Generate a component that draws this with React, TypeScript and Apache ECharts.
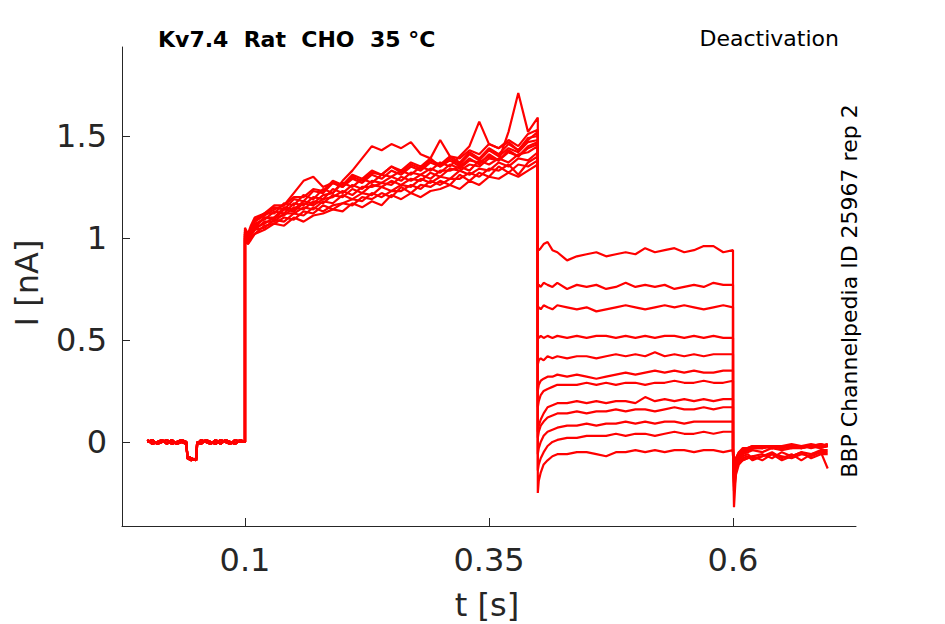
import React, { useEffect, useRef } from "react";
import * as echarts from "echarts";

// ---- time bases (s) ----
const baseT = [0.000,0.005,0.010,0.015,0.020,0.025,0.030,0.035,0.040,0.041,0.045,0.050,0.051,0.055,0.060,0.065,0.070,0.075,0.080,0.085,0.090,0.095,0.100];
const actT = [0.100,0.103,0.106,0.11,0.12,0.13,0.14,0.15,0.16,0.17,0.18,0.19,0.20,0.21,0.22,0.23,0.24,0.25,0.26,0.27,0.28,0.29,0.30,0.31,0.32,0.33,0.34,0.35,0.36,0.37,0.38,0.39,0.40];
const deT = [0.400,0.401,0.403,0.406,0.410,0.415,0.420,0.43,0.44,0.45,0.46,0.47,0.48,0.49,0.50,0.51,0.52,0.53,0.54,0.55,0.56,0.57,0.58,0.59,0.60];
const tailT = [0.600,0.601,0.603,0.606,0.610,0.615,0.620,0.630,0.640,0.650,0.660,0.670,0.680,0.690,0.697];

// ---- baseline (nA) ----
const baseA = [0.00,0.01,-0.01,0.00,0.01,-0.01,0.00,0.01,0.00,-0.08,-0.09,-0.08,0.00,-0.01,0.01,0.00,-0.01,0.01,0.00,-0.01,0.01,0.00,0.00];
const baseB = [0.01,-0.01,0.00,0.01,-0.01,0.01,-0.01,0.00,-0.01,-0.07,-0.08,-0.09,-0.01,0.01,0.00,-0.01,0.01,-0.01,0.01,0.00,-0.01,0.01,0.00];

// ---- activation (nA) ----
const act1 = [1.04,1.01,1.05,1.09,1.12,1.15,1.14,1.19,1.18,1.23,1.22,1.27,1.25,1.30,1.28,1.32,1.31,1.35,1.32,1.36,1.34,1.38,1.36,1.40,1.37,1.42,1.39,1.44,1.41,1.46,1.43,1.49,1.50];
const act2 = [1.00,0.97,1.00,1.02,1.06,1.07,1.10,1.09,1.13,1.12,1.16,1.14,1.17,1.16,1.20,1.19,1.22,1.20,1.25,1.22,1.26,1.25,1.28,1.26,1.31,1.28,1.32,1.30,1.35,1.32,1.36,1.35,1.38];
const act3 = [1.03,1.00,1.04,1.08,1.12,1.12,1.17,1.16,1.21,1.19,1.24,1.22,1.27,1.25,1.29,1.27,1.31,1.30,1.33,1.31,1.35,1.33,1.37,1.35,1.40,1.45,1.57,1.46,1.44,1.47,1.43,1.48,1.52];
const act4 = [0.99,0.97,0.99,1.02,1.04,1.07,1.06,1.10,1.08,1.11,1.12,1.14,1.13,1.17,1.15,1.18,1.16,1.21,1.19,1.22,1.20,1.23,1.24,1.26,1.24,1.28,1.26,1.30,1.29,1.32,1.30,1.33,1.36];
const act5 = [1.02,0.99,1.03,1.06,1.10,1.10,1.15,1.14,1.18,1.17,1.21,1.22,1.28,1.33,1.39,1.45,1.43,1.46,1.44,1.47,1.41,1.39,1.35,1.38,1.35,1.39,1.36,1.41,1.38,1.43,1.40,1.45,1.47];
const act6 = [1.02,1.00,1.03,1.05,1.10,1.09,1.14,1.13,1.17,1.16,1.19,1.20,1.23,1.21,1.25,1.25,1.27,1.26,1.30,1.28,1.31,1.29,1.33,1.33,1.35,1.33,1.38,1.36,1.39,1.37,1.41,1.42,1.45];
const act7 = [1.05,1.02,1.06,1.10,1.12,1.16,1.16,1.20,1.20,1.24,1.23,1.28,1.26,1.31,1.29,1.33,1.31,1.35,1.33,1.37,1.35,1.39,1.48,1.40,1.39,1.43,1.41,1.46,1.44,1.48,1.45,1.51,1.53];
const act8 = [1.01,0.99,1.02,1.05,1.07,1.10,1.11,1.15,1.14,1.18,1.17,1.21,1.20,1.24,1.22,1.26,1.25,1.28,1.26,1.29,1.28,1.32,1.30,1.34,1.33,1.36,1.35,1.39,1.38,1.52,1.71,1.52,1.59];
const act9 = [1.00,0.98,1.01,1.04,1.05,1.09,1.08,1.12,1.11,1.15,1.13,1.16,1.17,1.19,1.18,1.22,1.20,1.23,1.23,1.26,1.24,1.28,1.26,1.29,1.29,1.32,1.30,1.34,1.33,1.36,1.31,1.37,1.40];
const act10 = [1.03,1.01,1.04,1.08,1.11,1.14,1.16,1.22,1.28,1.30,1.25,1.27,1.25,1.29,1.27,1.31,1.29,1.33,1.31,1.35,1.33,1.37,1.35,1.39,1.36,1.41,1.38,1.43,1.40,1.44,1.42,1.47,1.48];
const act11 = [1.02,1.00,1.03,1.07,1.09,1.13,1.12,1.17,1.16,1.20,1.19,1.24,1.22,1.26,1.24,1.28,1.27,1.30,1.28,1.32,1.31,1.34,1.32,1.36,1.34,1.38,1.37,1.40,1.38,1.42,1.40,1.44,1.46];
const act12 = [1.01,0.99,1.02,1.04,1.08,1.08,1.12,1.12,1.15,1.14,1.18,1.17,1.21,1.19,1.22,1.21,1.25,1.23,1.26,1.25,1.29,1.27,1.30,1.29,1.33,1.31,1.34,1.33,1.37,1.35,1.39,1.38,1.42];

// ---- deactivation (nA) ----
const de1 = [0.95,0.94,0.95,0.97,0.98,0.94,0.93,0.89,0.91,0.92,0.93,0.91,0.92,0.93,0.92,0.95,0.93,0.94,0.95,0.93,0.94,0.96,0.96,0.93,0.94];
const de2 = [0.77,0.77,0.76,0.78,0.77,0.76,0.78,0.75,0.77,0.76,0.77,0.75,0.76,0.78,0.76,0.77,0.76,0.77,0.75,0.76,0.77,0.76,0.78,0.77,0.77];
const de3 = [0.66,0.66,0.65,0.67,0.66,0.65,0.67,0.66,0.65,0.66,0.64,0.65,0.66,0.67,0.66,0.65,0.66,0.67,0.66,0.67,0.66,0.65,0.66,0.67,0.66];
const de4 = [0.52,0.51,0.52,0.51,0.52,0.51,0.52,0.51,0.52,0.51,0.52,0.52,0.51,0.52,0.51,0.52,0.51,0.52,0.52,0.51,0.52,0.51,0.52,0.51,0.51];
const de5 = [0.38,0.40,0.41,0.40,0.42,0.41,0.42,0.41,0.42,0.42,0.41,0.42,0.43,0.42,0.43,0.42,0.44,0.42,0.43,0.42,0.43,0.42,0.43,0.43,0.43];
const de6 = [0.25,0.28,0.30,0.31,0.32,0.32,0.33,0.32,0.33,0.32,0.31,0.32,0.33,0.34,0.33,0.34,0.35,0.34,0.35,0.34,0.35,0.34,0.34,0.35,0.35];
const de7 = [0.17,0.20,0.23,0.25,0.26,0.27,0.28,0.28,0.28,0.29,0.28,0.29,0.28,0.29,0.29,0.28,0.29,0.29,0.30,0.29,0.29,0.30,0.29,0.29,0.30];
const de8 = [0.05,0.08,0.11,0.14,0.17,0.18,0.19,0.19,0.20,0.19,0.20,0.19,0.20,0.20,0.19,0.22,0.20,0.21,0.20,0.21,0.20,0.21,0.20,0.21,0.21];
const de9 = [0.02,0.05,0.08,0.10,0.12,0.13,0.14,0.14,0.15,0.14,0.15,0.15,0.16,0.15,0.16,0.16,0.15,0.16,0.17,0.16,0.16,0.17,0.16,0.17,0.17];
const de10 = [-0.06,-0.03,0.00,0.03,0.05,0.06,0.07,0.08,0.08,0.09,0.08,0.09,0.09,0.10,0.09,0.10,0.09,0.10,0.10,0.09,0.10,0.10,0.10,0.10,0.10];
const de11 = [-0.14,-0.11,-0.08,-0.05,-0.02,0.00,0.01,0.02,0.02,0.03,0.03,0.03,0.04,0.03,0.04,0.04,0.03,0.04,0.05,0.04,0.04,0.05,0.04,0.05,0.05];
const de12 = [-0.25,-0.19,-0.15,-0.11,-0.09,-0.07,-0.06,-0.06,-0.05,-0.05,-0.06,-0.07,-0.05,-0.05,-0.04,-0.05,-0.04,-0.05,-0.04,-0.04,-0.05,-0.04,-0.04,-0.05,-0.04];

// ---- tail after 0.6 s (nA) ----
const tail1 = [-0.05,-0.32,-0.15,-0.08,-0.05,-0.04,-0.03,-0.03,-0.02,-0.03,-0.02,-0.02,-0.03,-0.02,-0.02];
const tail2 = [-0.04,-0.20,-0.12,-0.07,-0.05,-0.04,-0.03,-0.02,-0.03,-0.02,-0.03,-0.02,-0.02,-0.03,-0.02];
const tail3 = [-0.03,-0.18,-0.11,-0.07,-0.04,-0.03,-0.03,-0.02,-0.02,-0.03,-0.02,-0.02,-0.02,-0.01,-0.02];
const tail4 = [-0.05,-0.16,-0.10,-0.08,-0.06,-0.05,-0.04,-0.05,-0.03,-0.04,-0.03,-0.03,-0.02,-0.03,-0.02];
const tail5 = [-0.06,-0.22,-0.14,-0.10,-0.09,-0.08,-0.07,-0.06,-0.08,-0.05,-0.07,-0.05,-0.06,-0.04,-0.04];
const tail6 = [-0.04,-0.15,-0.09,-0.06,-0.04,-0.03,-0.03,-0.02,-0.03,-0.02,-0.02,-0.03,-0.02,-0.02,-0.01];
const tail7 = [-0.05,-0.17,-0.12,-0.09,-0.07,-0.06,-0.08,-0.07,-0.05,-0.08,-0.06,-0.09,-0.06,-0.05,-0.05];
const tail8 = [-0.03,-0.14,-0.08,-0.05,-0.04,-0.03,-0.02,-0.03,-0.02,-0.02,-0.01,-0.02,-0.02,-0.01,-0.02];
const tail9 = [-0.06,-0.19,-0.13,-0.10,-0.08,-0.07,-0.09,-0.07,-0.06,-0.09,-0.07,-0.05,-0.08,-0.06,-0.06];
const tail10 = [-0.04,-0.13,-0.08,-0.05,-0.03,-0.03,-0.02,-0.02,-0.03,-0.02,-0.02,-0.02,-0.01,-0.02,-0.01];
const tail11 = [-0.05,-0.12,-0.09,-0.06,-0.05,-0.04,-0.03,-0.03,-0.02,-0.03,-0.02,-0.03,-0.02,-0.02,-0.02];
const tail12 = [-0.06,-0.24,-0.16,-0.11,-0.09,-0.08,-0.07,-0.09,-0.06,-0.07,-0.08,-0.06,-0.07,-0.05,-0.13];

const xTicks = [0.1, 0.35, 0.6];
const yTicks = [0, 0.5, 1, 1.5];

const traces = [
  { base: baseA, act: act1, de: de1, tail: tail1 },
  { base: baseB, act: act2, de: de2, tail: tail2 },
  { base: baseA, act: act3, de: de3, tail: tail3 },
  { base: baseB, act: act4, de: de4, tail: tail4 },
  { base: baseA, act: act5, de: de5, tail: tail5 },
  { base: baseB, act: act6, de: de6, tail: tail6 },
  { base: baseA, act: act7, de: de7, tail: tail7 },
  { base: baseB, act: act8, de: de8, tail: tail8 },
  { base: baseA, act: act9, de: de9, tail: tail9 },
  { base: baseB, act: act10, de: de10, tail: tail10 },
  { base: baseA, act: act11, de: de11, tail: tail11 },
  { base: baseB, act: act12, de: de12, tail: tail12 },
];

const FONT = "DejaVu Sans";
const DARK = "#262626";

export default function App() {
  const ref = useRef<HTMLDivElement>(null);
  useEffect(() => {
    if (!ref.current) return;
    const chart = echarts.init(ref.current, undefined, { renderer: "svg" });
    const pair = (ts: number[], vs: number[]) => ts.map((t, i) => [t, vs[i]]);
    const series = traces.map((tr) => ({
      type: "line",
      showSymbol: false,
      symbol: "none",
      silent: true,
      lineStyle: { color: "#ff0000", width: 2.2 },
      data: [
        ...pair(baseT, tr.base),
        ...pair(actT, tr.act),
        ...pair(deT, tr.de),
        ...pair(tailT, tr.tail),
      ],
    }));
    chart.setOption({
      animation: false,
      backgroundColor: "#ffffff",
      textStyle: { fontFamily: FONT },
      grid: { left: 122, right: 89, top: 47, bottom: 98, containLabel: false },
      xAxis: {
        type: "value",
        min: -0.026,
        max: 0.726,
        axisLine: { show: true, onZero: false, lineStyle: { color: DARK, width: 1 } },
        axisTick: { show: true, inside: true, length: 8, lineStyle: { color: DARK }, customValues: xTicks },
        axisLabel: { show: true, customValues: xTicks, fontSize: 32, color: DARK, fontFamily: FONT, margin: 18 },
        splitLine: { show: false },
      },
      yAxis: {
        type: "value",
        min: -0.412,
        max: 1.936,
        axisLine: { show: true, onZero: false, lineStyle: { color: DARK, width: 1 } },
        axisTick: { show: true, inside: true, length: 8, lineStyle: { color: DARK }, customValues: yTicks },
        axisLabel: { show: true, customValues: yTicks, fontSize: 32, color: DARK, fontFamily: FONT, margin: 15 },
        splitLine: { show: false },
      },
      graphic: [
        {
          type: "text",
          x: 158,
          y: 39,
          style: { text: "Kv7.4  Rat  CHO  35 °C", font: `bold 22px '${FONT}'`, fill: "#000", align: "left", verticalAlign: "middle" },
        },
        {
          type: "text",
          x: 839,
          y: 38.5,
          style: { text: "Deactivation", font: `22px '${FONT}'`, fill: "#000", align: "right", verticalAlign: "middle" },
        },
        {
          type: "text",
          x: 849,
          y: 291,
          rotation: Math.PI / 2,
          style: { text: "BBP Channelpedia ID 25967 rep 2", font: `22px '${FONT}'`, fill: "#000", align: "center", verticalAlign: "middle" },
        },
        {
          type: "text",
          x: 27,
          y: 283,
          rotation: Math.PI / 2,
          style: { text: "I [nA]", font: `32px '${FONT}'`, fill: DARK, align: "center", verticalAlign: "middle" },
        },
        {
          type: "text",
          x: 487,
          y: 605,
          style: { text: "t [s]", font: `32px '${FONT}'`, fill: DARK, align: "center", verticalAlign: "middle" },
        },
      ],
      series,
    });
    return () => chart.dispose();
  }, []);
  return <div ref={ref} style={{ position: "fixed", left: 0, top: 0, width: 945, height: 624, background: "#fff" }} />;
}
